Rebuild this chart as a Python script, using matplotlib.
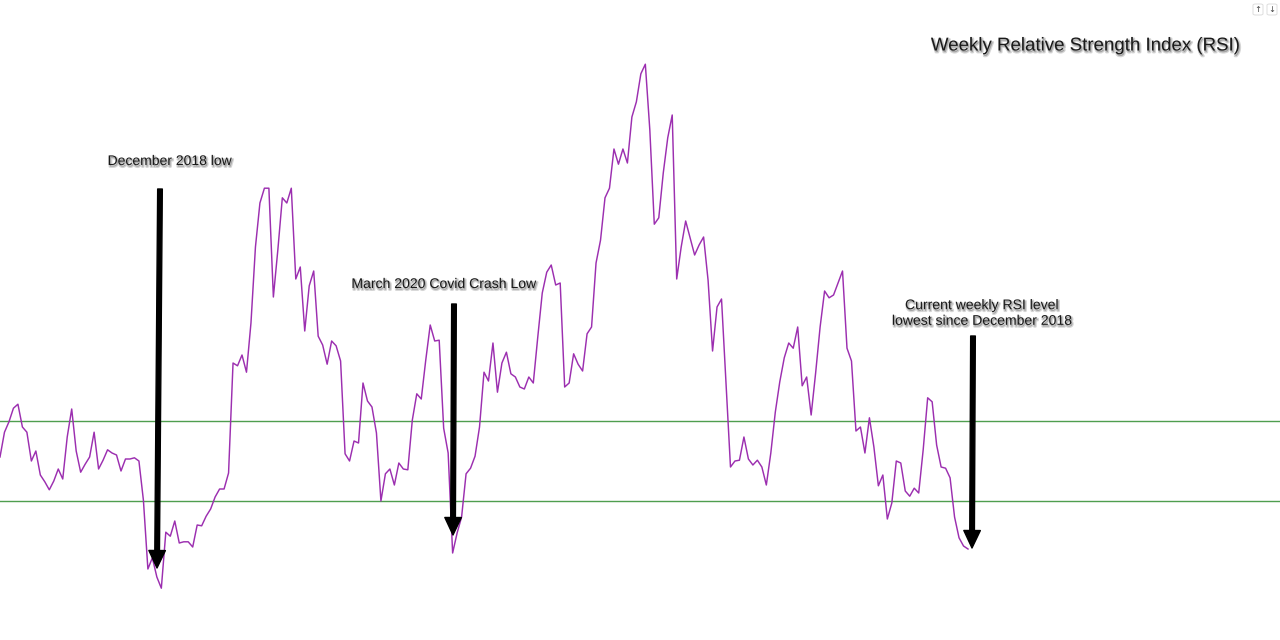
import numpy as np
import matplotlib
matplotlib.use("Agg")
import matplotlib.pyplot as plt
import matplotlib.patheffects as pe
from matplotlib.patches import FancyBboxPatch

plt.rcParams['font.family'] = ['Liberation Sans', 'DejaVu Sans']

# weekly RSI, one value per week
rsi = [35.5, 38.6, 39.9, 41.6, 42.1, 39.25, 38.6, 35.0, 36.25, 33.25, 32.4, 31.4, 32.5, 34.0, 32.75,
       38.0, 41.5, 36.25, 33.6, 34.6, 35.5, 38.6, 34.0, 35.1, 36.4, 36.0, 35.75, 33.75, 35.25, 35.25,
       35.4, 35.0, 30.1, 21.5, 22.9, 20.5, 19.1, 26.1, 25.6, 27.5, 24.75, 24.9, 24.9, 24.25, 27.0,
       26.9, 28.1, 29.0, 30.5, 31.5, 31.5, 33.5, 47.25, 46.9, 48.25, 46.1, 52.25, 61.75, 67.25, 69.1,
       69.1, 55.5, 61.4, 67.9, 67.25, 69.1, 57.75, 59.25, 51.25, 56.9, 58.75, 50.6, 49.5, 47.1, 50.0,
       49.4, 47.5, 35.9, 35.0, 37.5, 37.25, 44.75, 42.5, 41.75, 38.5, 30.0, 33.4, 34.0, 32.0, 34.75,
       34.0, 33.9, 40.1, 43.4, 42.75, 47.6, 52.0, 50.0, 50.1, 39.1, 36.0, 23.5, 26.0, 28.0, 33.4,
       34.1, 35.6, 39.25, 46.1, 45.0, 49.75, 43.6, 47.25, 48.6, 45.9, 45.5, 44.25, 44.0, 45.5, 44.75,
       50.5, 56.0, 58.6, 59.5, 57.0, 57.25, 44.25, 44.75, 48.4, 47.1, 46.25, 50.9, 51.75, 59.75, 62.6,
       67.9, 69.1, 74.0, 72.1, 74.0, 72.25, 78.0, 79.9, 83.4, 84.6, 76.4, 64.6, 65.4, 71.0, 75.4,
       78.25, 57.75, 61.75, 65.0, 62.9, 60.75, 62.0, 63.0, 57.6, 48.75, 54.25, 55.25, 44.75, 34.25,
       35.0, 35.1, 38.0, 35.25, 34.5, 35.1, 34.25, 32.0, 36.0, 41.1, 44.9, 47.9, 49.75, 49.1, 51.75,
       44.4, 45.5, 40.75, 46.0, 51.75, 56.25, 55.4, 55.75, 57.25, 58.75, 49.1, 47.5, 38.75, 39.25,
       36.0, 40.4, 36.75, 31.9, 33.25, 27.75, 29.75, 35.0, 34.75, 31.25, 30.6, 31.6, 31.0, 36.4, 42.9,
       42.4, 37.0, 34.25, 34.1, 32.9, 28.0, 25.4, 24.375, 24.0]
levels = [40, 30]
title = "Weekly Relative Strength Index (RSI)"
notes = ["December 2018 low", "March 2020 Covid Crash Low",
         "Current weekly RSI level\nlowest since December 2018"]

W, H = 1280, 640
weeks = np.arange(len(rsi))

fig = plt.figure(figsize=(W / 100, H / 100), dpi=100)
ax = fig.add_axes([0, 0, 1, 1])
ax.set_xlim(0, (len(rsi) - 1) * W / 968)
ax.set_ylim(12.625, 92.625)
ax.axis("off")

for lvl in levels:
    ax.axhline(lvl, color="#4f9e4f", lw=1.0, zorder=1)
ax.plot(weeks, rsi, color="#9c2fb0", lw=1.05, zorder=2)


def fpos(x, y):
    # picture pixels to figure fraction
    return x / W, 1 - y / H


def label(x, y, txt, size):
    t = fig.text(*fpos(x, y), txt, ha="center", va="center", fontsize=size,
                 color="#1a1a1a", linespacing=1.15, zorder=5)
    # soft grey shadow behind the words
    t.set_path_effects([pe.Stroke(linewidth=1.8, foreground="#777777", alpha=0.3, offset=(0.8, -1.2)),
                        pe.Normal()])


label(1085, 46, title, 13.45)
label(170, 161, notes[0], 10.05)
label(444, 284, notes[1], 10.1)
label(982, 313, notes[2], 10.1)


def arrow(x0, y0, x1, y1):
    ax.annotate("", xy=fpos(x1, y1), xytext=fpos(x0, y0),
                xycoords="figure fraction", textcoords="figure fraction", zorder=4,
                arrowprops=dict(arrowstyle="simple,head_length=0.9,head_width=0.85,tail_width=0.24",
                                mutation_scale=14, color="black", lw=1.0,
                                shrinkA=0, shrinkB=0, joinstyle="round"))


arrow(160, 189, 157, 568)
arrow(454, 304, 453, 535)
arrow(973, 336, 972, 548)

# the two little scroll buttons in the top right corner
for x0, glyph in [(1253, "\u2191"), (1267, "\u2193")]:
    x, y = fpos(x0, 15)
    fig.add_artist(FancyBboxPatch((x, y), 10 / W, 11 / H, boxstyle="round,pad=0,rounding_size=0.002",
                                  transform=fig.transFigure, fc="white", ec="#dddddd", lw=0.7))
    fig.text(*fpos(x0 + 5, 9.5), glyph, ha="center", va="center", fontsize=6, color="#444444",
             family="DejaVu Sans")

fig.savefig("out.png", dpi=100, facecolor="white")
